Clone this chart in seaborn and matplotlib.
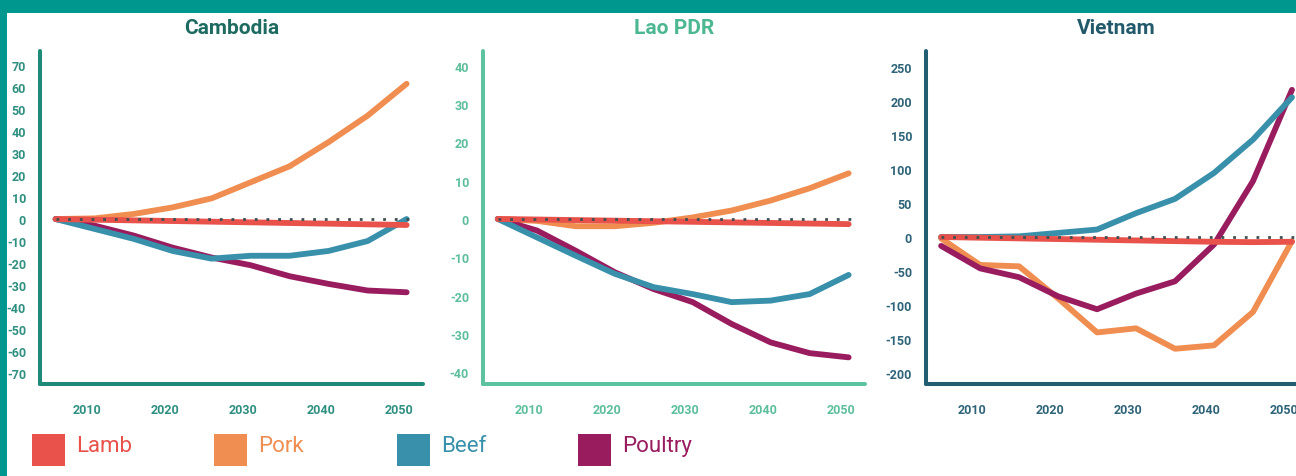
import matplotlib
matplotlib.use("Agg")
import matplotlib.pyplot as plt
from matplotlib.patches import Rectangle
from matplotlib.transforms import Affine2D
import seaborn as sns
import pandas as pd

W, H = 1296, 477

YEARS = [2006, 2011, 2016, 2021, 2026, 2031, 2036, 2041, 2046, 2051]
MEATS = ["Lamb", "Pork", "Beef", "Poultry"]
XTICKS_MAJOR = [2010, 2020, 2030, 2040, 2050]
XTICKS_MINOR = [2005, 2015, 2025, 2035, 2045]
XTICK_LABELS = ["2010", "2020", "2030", "2040", "2050"]

# change in consumption
CAMBODIA_LAMB = [0, -0.3, -0.6, -0.9, -1.2, -1.5, -1.8, -2.1, -2.4, -2.7]
CAMBODIA_PORK = [0, 0.3, 2.3, 5.3, 9.4, 16.7, 24, 35, 47, 61.5]
CAMBODIA_BEEF = [0, -4.5, -9, -14.5, -18, -16.7, -16.7, -14.5, -10, 0]
CAMBODIA_POULTRY = [0, -3, -7.5, -13, -17.5, -21, -26, -29.5, -32.5, -33.3]

LAO_LAMB = [0, -0.15, -0.3, -0.45, -0.6, -0.75, -0.9, -1.05, -1.2, -1.35]
LAO_PORK = [0, -0.5, -1.9, -1.9, -1.0, 0.4, 2.2, 4.8, 8.0, 11.9]
LAO_BEEF = [0, -4.8, -9.6, -14.3, -17.8, -19.6, -21.7, -21.3, -19.6, -14.6]
LAO_POULTRY = [0, -3, -8.3, -13.9, -18.3, -21.7, -27.4, -32.2, -35, -36.1]

VIETNAM_LAMB = [0, -1, -2, -3, -4, -5, -6, -7, -7.5, -7]
VIETNAM_PORK = [-2, -41, -43, -90, -140, -134, -164, -159, -110, -6]
VIETNAM_BEEF = [0, 0, 1, 6, 11, 35, 56, 94, 143, 205]
VIETNAM_POULTRY = [-13, -46, -59, -87, -106, -83, -65, -11, 82, 216]

CAMBODIA_YTICKS = list(range(-70, 71, 10))
LAO_YTICKS = list(range(-40, 41, 10))
VIETNAM_YTICKS = list(range(-200, 251, 50))

COLORS = {"Lamb": "#E8524B", "Pork": "#F08D50", "Beef": "#3890AA", "Poultry": "#991C5F"}
DRAW_ORDER = ["Pork", "Poultry", "Beef", "Lamb"]
FRAME = "#00978F"

# name, series, yticks, axis pixel left/right, xlim, ylim, axis colour, label colour, title colour
PANELS = [
    ("Cambodia", [CAMBODIA_LAMB, CAMBODIA_PORK, CAMBODIA_BEEF, CAMBODIA_POULTRY], CAMBODIA_YTICKS,
     (40, 423), (2004.0, 2053.1), (-75.0, 76.4), "#1E8A78", "#2F8F80", "#1D6B60"),
    ("Lao PDR", [LAO_LAMB, LAO_PORK, LAO_BEEF, LAO_POULTRY], LAO_YTICKS,
     (483, 865), (2004.1, 2053.1), (-43.05, 43.8), "#5CC29F", "#5DBE9C", "#4CB892"),
    ("Vietnam", [VIETNAM_LAMB, VIETNAM_PORK, VIETNAM_BEEF, VIETNAM_POULTRY], VIETNAM_YTICKS,
     (926, 1306), (2004.06, 2052.8), (-215.7, 273.0), "#215E72", "#2F6478", "#235A6B"),
]

sns.set_style("white")
plt.rcParams["font.family"] = ["Roboto", "DejaVu Sans"]
plt.rcParams["axes.unicode_minus"] = False

fig = plt.figure(figsize=(W / 100, H / 100), dpi=100)
fig.patch.set_facecolor(FRAME)
px = Affine2D().scale(1 / W, -1 / H).translate(0, 1) + fig.transFigure
fig.add_artist(Rectangle((7, 14), W, H, transform=px, facecolor="white",
                         edgecolor="none", zorder=-1))

for name, series, yticks, (left, right), xlim, ylim, axc, labc, titc in PANELS:
    ax = fig.add_axes([left / W, (H - 385) / H, (right - left) / W, 333 / H])
    ax.set_facecolor("none")
    df = pd.DataFrame({
        "year": YEARS * len(MEATS),
        "value": [v for s in series for v in s],
        "meat": [m for m in MEATS for _ in YEARS],
    })
    sns.lineplot(data=df, x="year", y="value", hue="meat", hue_order=DRAW_ORDER,
                 palette=COLORS, linewidth=4.2, legend=False, errorbar=None, ax=ax,
                 solid_capstyle="round", solid_joinstyle="round")
    ax.hlines(0, YEARS[0], YEARS[-1] + 1.3, colors="#3F4F52", linewidth=2,
              linestyles=(0, (1, 3.2)), zorder=5)

    ax.set_xlim(*xlim)
    ax.set_ylim(*ylim)
    ax.set_xticks(XTICKS_MAJOR, labels=XTICK_LABELS, fontweight="bold")
    ax.set_xticks(XTICKS_MINOR, minor=True)
    ax.set_yticks(yticks, labels=[str(v) for v in yticks], fontweight="bold")
    ax.set_xlabel("")
    ax.set_ylabel("")
    ax.tick_params(axis="both", which="both", direction="out", length=5.5, width=1.5,
                   color=axc, labelcolor=labc, labelsize=9)
    ax.tick_params(axis="x", which="both", pad=8)
    ax.tick_params(axis="y", which="both", pad=4.5)
    sns.despine(ax=ax)
    for side in ("left", "bottom"):
        ax.spines[side].set_linewidth(2.9)
        ax.spines[side].set_color(axc)
        ax.spines[side].set_capstyle("round")
    ax.set_title(name, color=titc, fontsize=15, fontweight="bold", pad=13)

# legend row along the bottom
LEGEND_X = {"Lamb": 32, "Pork": 214, "Beef": 397, "Poultry": 578}
for meat in MEATS:
    x = LEGEND_X[meat]
    fig.add_artist(Rectangle((x, 435), 33, 32, transform=px,
                             facecolor=COLORS[meat], edgecolor="none"))
    fig.text(x + 44, 452, meat, transform=px, color=COLORS[meat], fontsize=16,
             fontweight="normal", va="baseline", ha="left")

fig.savefig("out.png", dpi=100)
